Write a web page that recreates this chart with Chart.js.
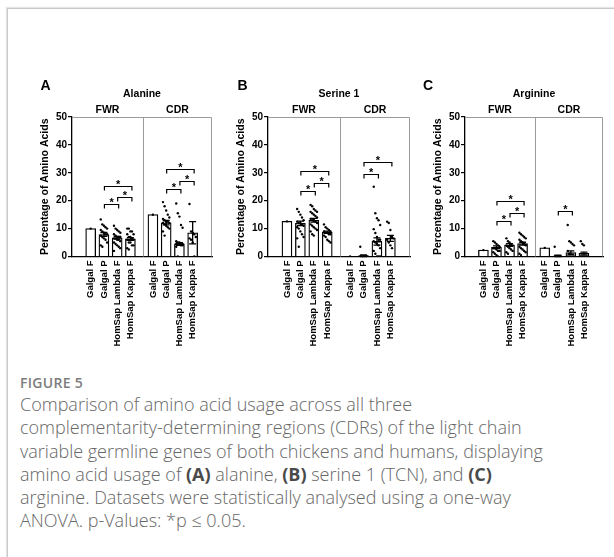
<!DOCTYPE html>
<html>
<head>
<meta charset="utf-8">
<script src="https://cdn.jsdelivr.net/npm/chart.js@4.4.0/dist/chart.umd.min.js"></script>
<style>
  html, body { margin: 0; padding: 0; background: #fff; }
  body { width: 614px; height: 557px; position: relative; overflow: hidden; }
  .frame {
    position: absolute; left: 7px; top: 8px; width: 640px; height: 600px;
    border-top: 1px solid #c9c9c9; border-left: 1px solid #c9c9c9;
    box-shadow: -1px -1px 1px #e6e6e6;
  }
  .panel { position: absolute; top: 70px; }
  .caption {
    position: absolute; left: 20px; top: 373px; white-space: nowrap;
    font-family: "Open Sans", sans-serif; color: #666;
  }
  .caption .fig { font-size: 14px; letter-spacing: 0.3px; color: #7d7d7d; font-weight: 600; margin-bottom: 1px; }
  .caption p { margin: 0; font-size: 18px; font-weight: 300; line-height: 23.3px; }
  .caption b { color: #4a4a4a; font-weight: 700; }
</style>
</head>
<body>
<div class="frame"></div>
<div id="charts"></div>
<div class="caption">
  <div class="fig">FIGURE 5</div>
  <p>Comparison of amino acid usage across all three<br>
  complementarity-determining regions (CDRs) of the light chain<br>
  variable germline genes of both chickens and humans, displaying<br>
  amino acid usage of <b>(A)</b> alanine, <b>(B)</b> serine 1 (TCN), and <b>(C)</b><br>
  arginine. Datasets were statistically analysed using a one-way<br>
  ANOVA. p-Values: *p &le; 0.05.</p>
</div>
<script>
Chart.defaults.font.family = '"Liberation Sans", Arial, sans-serif';
Chart.defaults.color = '#000';

// categories: FWR block then CDR block
const groups = ['Galgal F', 'Galgal P', 'HomSap Lambda F', 'HomSap Kappa F'];
const regions = ['FWR', 'CDR'];
const xLabels = groups.concat(groups);
const xPos = [0, 1, 2, 3, 4.7, 5.7, 6.7, 7.7];
const dividerAt = 3.95;
const yTicks = [0, 10, 20, 30, 40, 50];

// Alanine
const alanineMeans = [10, 7.9, 6.7, 6.3, 15, 12.1, 4.5, 8.5];
const alanineErr = [0, 0.7, 0.5, 0.5, 0, 0.8, 0.5, 4];
const alaninePoints = [
  [10],
  [13.3, 11.5, 11, 10.5, 10, 9.5, 9, 8.5, 8, 8, 7.5, 7, 6.5, 6, 5, 4, 3.5],
  [11, 10, 9.5, 9, 8.5, 8, 7.5, 7, 7, 7, 6.5, 6.5, 6, 6, 5.5, 5, 4.5, 4, 3.5, 3, 2],
  [10, 10, 9, 9, 8, 8, 7, 7, 6.5, 6, 6, 5, 5, 4, 4, 3, 2.5],
  [15],
  [19.5, 18, 16.5, 15, 14, 13.5, 13, 12.5, 12.5, 12, 12, 11.5, 11, 10.5, 10, 9, 7.5],
  [19, 15.5, 14.3, 11.3, 10.3, 5.5, 5, 5, 4.8, 4.5, 4.5, 4.5, 4.2, 4, 4, 3.5, 0],
  [18.8, 9, 8.5, 8, 7, 6.5, 6, 5, 0]
];
const alanineSig = [[1, 2, 18.7], [2, 3, 21.2], [1, 3, 25.3], [5, 6, 24.1], [6, 7, 27], [5, 7, 31.2]];

// Serine 1
const serineMeans = [12.6, 11.9, 13, 8.7, 0, 0.3, 5.4, 6.5];
const serineErr = [0, 0.8, 0.7, 0.4, 0, 0.3, 1.3, 1.1];
const serinePoints = [
  [12.6],
  [17, 16, 15, 14, 13, 12.5, 12, 12, 11.5, 11, 10.5, 10, 9, 8, 7, 6.5, 3.5],
  [18.5, 18, 17, 16.5, 16, 16, 15.5, 15, 14.5, 14, 13.5, 13, 13, 12.5, 12, 11.5, 11, 10.5, 10, 9.5, 9, 8, 7.5],
  [11.5, 10.5, 10, 9.5, 9, 9, 8.5, 8.5, 8, 8, 7.5, 7, 6, 5.5, 5],
  [0],
  [3.5, 0, 0, 0, 0, 0, 0, 0, 0, 0],
  [25, 15.5, 13.7, 13, 11.3, 9.8, 8.4, 7, 6, 6, 5.5, 5, 4.5, 4, 3, 2, 1, 0, 0, 0],
  [12.5, 12, 9.5, 7, 6.5, 6, 5, 4, 3]
];
const serineSig = [[1, 2, 23.6], [2, 3, 26.5], [1, 3, 30.6], [5, 6, 29.6], [5, 7, 34]];

// Arginine
const arginineMeans = [2.3, 3.3, 4.1, 4.6, 3.1, 0.2, 1.4, 1.1];
const arginineErr = [0, 0.5, 0.5, 0.5, 0, 0.25, 0.6, 0.5];
const argininePoints = [
  [2.3],
  [5.5, 5, 4.5, 4, 3.5, 3, 3, 2.5, 2, 2, 1.5, 1, 0.5, 0],
  [6.5, 5.5, 5, 4.5, 4, 4, 3.5, 3, 2.5, 2, 1.5, 1],
  [8.5, 8, 7.5, 7, 6.5, 6, 5.5, 5, 4.5, 4, 3.5, 3, 2.5, 2, 1.5, 1, 0.5],
  [3.1],
  [3.5, 0, 0, 0, 0, 0, 0, 0],
  [11.3, 5.5, 5, 4.5, 4, 2, 1, 0, 0, 0, 0, 0],
  [5.5, 4.5, 4, 0, 0, 0, 0, 0]
];
const arginineSig = [[1, 2, 12.8], [2, 3, 15.7], [1, 3, 20], [5, 6, 16.3]];

const panels = [
  { letter: 'A', title: 'Alanine', means: alanineMeans, err: alanineErr, points: alaninePoints, sig: alanineSig,
    axisX: 71.7, rightX: 212, letterGap: 31.5 },
  { letter: 'B', title: 'Serine 1', means: serineMeans, err: serineErr, points: serinePoints, sig: serineSig,
    axisX: 267.5, rightX: 409, letterGap: 30.5 },
  { letter: 'C', title: 'Arginine', means: arginineMeans, err: arginineErr, points: argininePoints, sig: arginineSig,
    axisX: 465, rightX: 603, letterGap: 42 }
];

const Y_AXIS_W = 42;
const PAD_TOP = 47;   // room for letter, title and region labels
const PAD_RIGHT = 10;
const CANVAS_H = 290;
const X_AXIS_H = CANVAS_H - PAD_TOP - 139.5;

// box lines, error bars, significance brackets and headings
function decor(p) {
  return {
    id: 'decor',
    beforeDatasetsDraw(chart) {
      const { ctx, chartArea: a, scales: { x } } = chart;
      ctx.save();
      ctx.strokeStyle = '#9b9b9b';
      ctx.lineWidth = 1;
      ctx.beginPath();
      ctx.moveTo(a.left, a.top + 0.5);
      ctx.lineTo(a.right - 0.5, a.top + 0.5);
      ctx.lineTo(a.right - 0.5, a.bottom);
      const dx = Math.round(x.getPixelForValue(dividerAt)) + 0.5;
      ctx.moveTo(dx, a.top);
      ctx.lineTo(dx, a.bottom);
      ctx.stroke();
      ctx.restore();
    },
    afterDatasetsDraw(chart) {
      const { ctx, scales: { x, y } } = chart;
      ctx.save();
      ctx.strokeStyle = '#000';
      ctx.fillStyle = '#000';

      // mean +/- error
      ctx.lineWidth = 1.3;
      p.means.forEach((m, i) => {
        const e = p.err[i];
        if (!e) return;
        const px = x.getPixelForValue(xPos[i]);
        const top = y.getPixelForValue(m + e);
        const bot = y.getPixelForValue(Math.max(0, m - e));
        ctx.beginPath();
        ctx.moveTo(px, top); ctx.lineTo(px, bot);
        ctx.moveTo(px - 3.5, top); ctx.lineTo(px + 3.5, top);
        ctx.moveTo(px - 3.5, bot); ctx.lineTo(px + 3.5, bot);
        ctx.stroke();
      });

      // brackets with stars
      ctx.lineWidth = 1.2;
      ctx.font = 'bold 11px "Liberation Sans", Arial, sans-serif';
      ctx.textAlign = 'center';
      ctx.textBaseline = 'alphabetic';
      p.sig.forEach(([from, to, lvl]) => {
        const x1 = x.getPixelForValue(xPos[from]) + 0.5;
        const x2 = x.getPixelForValue(xPos[to]) + 1.5;
        const yl = Math.round(y.getPixelForValue(lvl)) + 0.5;
        ctx.beginPath();
        ctx.moveTo(x1, yl + 4); ctx.lineTo(x1, yl); ctx.lineTo(x2, yl); ctx.lineTo(x2, yl + 4);
        ctx.stroke();
        ctx.fillText('*', (x1 + x2) / 2, yl + 1.5);
      });
      ctx.restore();
    },
    afterDraw(chart) {
      const { ctx, chartArea: a, scales: { x } } = chart;
      ctx.save();
      ctx.fillStyle = '#000';
      ctx.textBaseline = 'alphabetic';
      ctx.font = 'bold 14px "Liberation Sans", Arial, sans-serif';
      ctx.textAlign = 'left';
      ctx.fillText(p.letter, a.left - p.letterGap, a.top - 27);
      ctx.textAlign = 'center';
      ctx.font = 'bold 10.5px "Liberation Sans", Arial, sans-serif';
      ctx.fillText(p.title, (a.left + a.right) / 2, a.top - 20.5);
      const dx = x.getPixelForValue(dividerAt);
      ctx.fillText(regions[0], (a.left + dx) / 2, a.top - 4);
      ctx.fillText(regions[1], (dx + a.right) / 2, a.top - 4);
      ctx.restore();
    }
  };
}

const holder = document.getElementById('charts');

panels.forEach(p => {
  const left = p.axisX - Y_AXIS_W;
  const width = Math.round(p.rightX + PAD_RIGHT - left);
  const wrap = document.createElement('div');
  wrap.className = 'panel';
  wrap.style.left = left + 'px';
  const canvas = document.createElement('canvas');
  canvas.width = width;
  canvas.height = CANVAS_H;
  wrap.appendChild(canvas);
  holder.appendChild(wrap);

  const scatter = [];
  p.points.forEach((vals, i) => {
    vals.forEach((v, j) => {
      const off = vals.length > 1 ? ((j % 5) - 2) * 0.12 : 0;
      scatter.push({ x: xPos[i] + off, y: v });
    });
  });

  new Chart(canvas, {
    type: 'bar',
    data: {
      datasets: [
        {
          type: 'bar',
          data: p.means.map((m, i) => ({ x: xPos[i], y: m })),
          backgroundColor: '#fff',
          borderColor: '#000',
          borderWidth: 1.3,
          barThickness: 10,
          order: 1
        },
        {
          type: 'scatter',
          data: scatter,
          backgroundColor: '#000',
          borderWidth: 0,
          pointRadius: 1.2,
          order: 0
        }
      ]
    },
    options: {
      responsive: false,
      animation: false,
      layout: { padding: { top: PAD_TOP, right: PAD_RIGHT, left: 0, bottom: 0 } },
      plugins: { legend: { display: false }, tooltip: { enabled: false } },
      scales: {
        x: {
          type: 'linear',
          min: -0.75,
          max: 8.5,
          afterBuildTicks: s => { s.ticks = xPos.map(v => ({ value: v })); },
          afterFit: s => { s.height = X_AXIS_H; },
          grid: { display: false, drawTicks: false },
          border: { color: '#000', width: 1.3 },
          ticks: {
            autoSkip: false,
            minRotation: 90,
            maxRotation: 90,
            padding: 4,
            font: { size: 9.5, weight: 'bold' },
            callback: (v, i) => xLabels[i]
          }
        },
        y: {
          min: 0,
          max: 50,
          afterBuildTicks: s => { s.ticks = yTicks.map(v => ({ value: v })); },
          afterFit: s => { s.width = Y_AXIS_W; },
          grid: { drawOnChartArea: false, tickLength: 4, color: '#000', lineWidth: 1.2 },
          border: { color: '#000', width: 1.3 },
          ticks: { padding: 1, font: { size: 10, weight: 'bold' } },
          title: {
            display: true,
            text: 'Percentage of Amino Acids',
            font: { size: 10.5, weight: 'bold' },
            padding: { top: 9, bottom: 0 }
          }
        }
      }
    },
    plugins: [decor(p)]
  });
});
</script>
</body>
</html>
